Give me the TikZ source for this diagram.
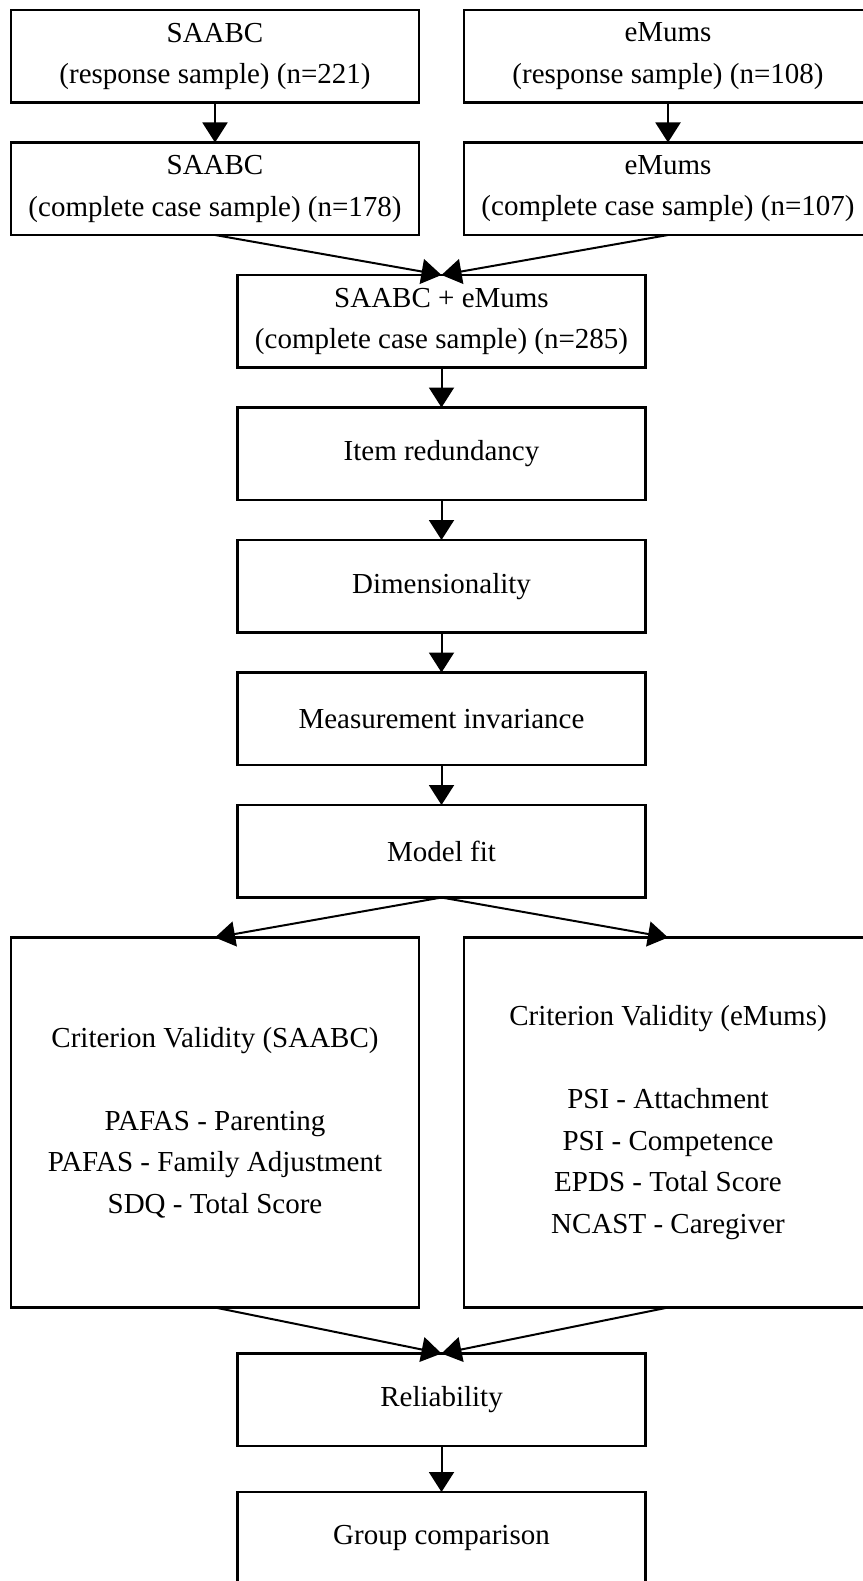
\documentclass[tikz,border=0pt]{standalone}
\usepackage{fontspec}
\setmainfont{Liberation Serif}
\usetikzlibrary{positioning,calc,arrows.meta}
\tikzset{
  blk/.style  ={rectangle, draw=black, line width=2.2pt, fill=white, text=black,
                align=center, font=\fontsize{29pt}{41.5pt}\selectfont,
                minimum width=408pt, minimum height=92.5pt, inner sep=0pt, outer sep=0pt},
  blkc/.style ={blk, minimum height=370pt},
  fl/.style   ={-{Triangle[length=20pt,width=25pt]}, line width=2pt, draw=black}
}
\begin{document}
\begin{tikzpicture}[x=1pt, y=-1pt, node distance=40pt and 45pt]
  \useasboundingbox (0,0) rectangle (862,1581);
  \node[blk] (saabcr) at (215,56.25) {SAABC\\(response sample) (n=221)};
  \node[blk,right=of saabcr] (emumsr) {eMums\\(response sample) (n=108)};
  \node[blk,below=of saabcr] (saabcc) {SAABC\\ (complete case sample) (n=178)};
  \node[blk,below=of emumsr] (emumsc) {eMums\\(complete case sample) (n=107)};
  \coordinate (mid) at ($(saabcc.south)!0.5!(emumsc.south)$);
  \node[blk,below=of mid] (both) {SAABC + eMums\\ (complete case sample) (n=285)};
  \node[blk,below=of both] (item) {Item redundancy};
  \node[blk,below=of item] (dim) {Dimensionality};
  \node[blk,below=of dim] (mi) {Measurement invariance};
  \node[blk,below=of mi] (fit) {Model fit};
  \node[blkc,anchor=north] (crits) at ([yshift=-40pt]fit.south -| saabcc.south)
    {Criterion Validity (SAABC)\\[41.5pt]PAFAS - Parenting\\PAFAS - Family Adjustment\\SDQ - Total Score};
  \node[blkc,anchor=north] (crite) at ([yshift=-40pt]fit.south -| emumsc.south)
    {Criterion Validity (eMums)\\[41.5pt]PSI - Attachment\\PSI - Competence\\EPDS - Total Score\\NCAST - Caregiver};
  \node[blk,anchor=north] (rel) at ([yshift=-46pt]crits.south -| fit.south) {Reliability};
  \node[blk,below=46pt of rel] (grp) {Group comparison};
  \draw[fl] (saabcr) -- (saabcc);
  \draw[fl] (emumsr) -- (emumsc);
  \draw[fl] (saabcc.south) -- (both.north);
  \draw[fl] (emumsc.south) -- (both.north);
  \draw[fl] (both) -- (item);
  \draw[fl] (item) -- (dim);
  \draw[fl] (dim) -- (mi);
  \draw[fl] (mi) -- (fit);
  \draw[fl] (fit.south) -- (crits.north);
  \draw[fl] (fit.south) -- (crite.north);
  \draw[fl] (crits.south) -- (rel.north);
  \draw[fl] (crite.south) -- (rel.north);
  \draw[fl] (rel) -- (grp);
\end{tikzpicture}
\end{document}
